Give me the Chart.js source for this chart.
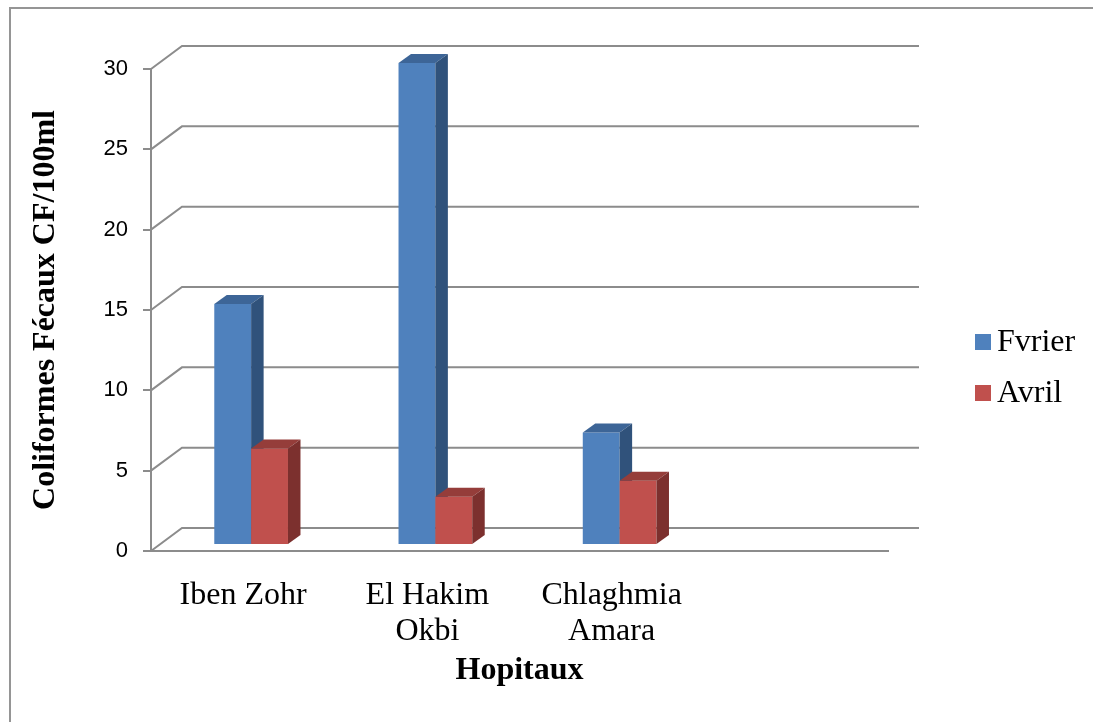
<!DOCTYPE html>
<html>
<head>
<meta charset="utf-8">
<script src="https://cdn.jsdelivr.net/npm/chart.js"></script>
<style>
    html, body { margin: 0; padding: 0; background: #fff; overflow: hidden; }
    #wrap { position: relative; width: 1093px; height: 722px; overflow: hidden; }
    #frame { position: absolute; left: 9px; top: 7px; width: 1200px; height: 800px; border: 2px solid #959595; }
    canvas { position: absolute; left: 0; top: 0; }
</style>
</head>
<body>
<div id="wrap">
    <div id="frame"></div>
    <canvas id="chart" width="1093" height="722"></canvas>
</div>
<script>
// ================= DATA =================
const categories = ["Iben Zohr", ["El Hakim", "Okbi"], ["Chlaghmia", "Amara"], ""];
const seriesNames = ["Fvrier", "Avril"];
const fvrier = [15, 30, 7, null];
const avril = [6, 3, 4, null];
const yMin = 0, yMax = 30, yStep = 5;

// ================= LOOK =================
const GRID = "#8c8c8c";
const SERIF = '"Liberation Serif", "Times New Roman", serif';
const WALL_DX = 31, WALL_DY = -23;     // back wall, seen from the front axis
const BAR_DX = 8, BAR_DY = -6;         // bars stand a little behind the front axis
const DEPTH_DX = 12.5, DEPTH_DY = -9;  // bar thickness

// back wall + left wall lines, then the 3d bars in the right order
const boxPlugin = {
    id: "box3d",
    beforeDatasetsDraw(chart) {
        const ctx = chart.ctx;
        const a = chart.chartArea;
        const y = chart.scales.y;

        ctx.save();
        ctx.strokeStyle = GRID;
        ctx.lineWidth = 2;
        y.ticks.forEach(t => {
            const py = y.getPixelForValue(t.value);
            ctx.beginPath();
            ctx.moveTo(a.left, py);
            ctx.lineTo(a.left + WALL_DX, py + WALL_DY);
            ctx.lineTo(a.right + WALL_DX, py + WALL_DY);
            ctx.stroke();
        });
        ctx.restore();

        ctx.save();
        ctx.translate(BAR_DX, BAR_DY);
        const sets = chart.data.datasets;
        for (let j = 0; j < chart.data.labels.length; j++) {
            sets.forEach((ds, i) => {
                const el = chart.getDatasetMeta(i).data[j];
                if (!el || ds.data[j] == null) return;
                el.draw(ctx);
                const p = el.getProps(["x", "y", "base", "width"], true);
                const l = p.x - p.width / 2, r = p.x + p.width / 2;

                ctx.fillStyle = ds.topColor;
                ctx.beginPath();
                ctx.moveTo(l, p.y);
                ctx.lineTo(r, p.y);
                ctx.lineTo(r + DEPTH_DX, p.y + DEPTH_DY);
                ctx.lineTo(l + DEPTH_DX, p.y + DEPTH_DY);
                ctx.closePath();
                ctx.fill();

                ctx.fillStyle = ds.sideColor;
                ctx.beginPath();
                ctx.moveTo(r, p.y);
                ctx.lineTo(r + DEPTH_DX, p.y + DEPTH_DY);
                ctx.lineTo(r + DEPTH_DX, p.base + DEPTH_DY);
                ctx.lineTo(r, p.base);
                ctx.closePath();
                ctx.fill();
            });
        }
        ctx.restore();
        return false;
    }
};

// legend on the right, Excel style
const legendPlugin = {
    id: "sideLegend",
    afterDraw(chart) {
        const ctx = chart.ctx;
        ctx.save();
        ctx.font = "32px " + SERIF;
        ctx.textBaseline = "middle";
        ctx.textAlign = "left";
        chart.data.datasets.forEach((ds, i) => {
            const cy = 342 + i * 51;
            ctx.fillStyle = ds.backgroundColor;
            ctx.fillRect(975, cy - 8, 16, 16);
            ctx.fillStyle = "#000";
            ctx.fillText(ds.label, 997, cy + 1);
        });
        ctx.restore();
    }
};

new Chart(document.getElementById("chart"), {
    type: "bar",
    data: {
        labels: categories,
        datasets: [
            {
                label: seriesNames[0],
                data: fvrier,
                backgroundColor: "#4f81bd",
                topColor: "#3d6597",
                sideColor: "#30527b"
            },
            {
                label: seriesNames[1],
                data: avril,
                backgroundColor: "#c0504d",
                topColor: "#953d3a",
                sideColor: "#7c302e"
            }
        ]
    },
    options: {
        responsive: false,
        animation: false,
        devicePixelRatio: 1,
        categoryPercentage: 0.4,
        barPercentage: 1.0,
        borderWidth: 0,
        layout: { padding: { left: 10, top: 69, right: 205, bottom: 0 } },
        plugins: {
            legend: { display: false },
            tooltip: { enabled: false }
        },
        scales: {
            x: {
                ticks: {
                    color: "#000",
                    font: { family: SERIF, size: 32, lineHeight: 1.12 },
                    padding: 19,
                    maxRotation: 0,
                    autoSkip: false
                },
                grid: { display: false },
                border: { display: true, color: GRID, width: 2 },
                title: {
                    display: true,
                    text: "Hopitaux",
                    color: "#000",
                    font: { family: SERIF, size: 32, weight: "bold" },
                    padding: { top: 0, bottom: 32 }
                },
                afterFit(scale) { scale.height = 171; }
            },
            y: {
                min: yMin,
                max: yMax,
                ticks: {
                    stepSize: yStep,
                    color: "#000",
                    font: { family: '"Liberation Sans", Arial, sans-serif', size: 22 },
                    padding: 15
                },
                grid: { drawOnChartArea: false, drawTicks: true, tickLength: 8, color: GRID, lineWidth: 2 },
                border: { display: true, color: GRID, width: 2 },
                title: {
                    display: true,
                    text: "Coliformes Fécaux CF/100ml",
                    color: "#000",
                    font: { family: SERIF, size: 32, weight: "bold" },
                    padding: { top: 17, bottom: 0 }
                },
                afterFit(scale) { scale.width = 141; }
            }
        }
    },
    plugins: [boxPlugin, legendPlugin]
});
</script>
</body>
</html>
